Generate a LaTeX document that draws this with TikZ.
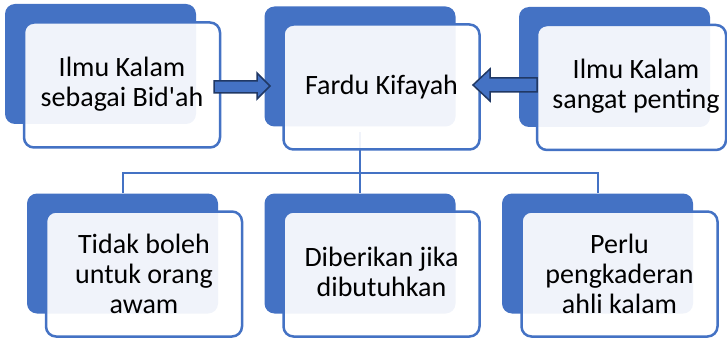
\documentclass[tikz,border=0pt]{standalone}
\usepackage{fontspec}
\setmainfont{Carlito}[Ligatures=TeXOff]
\definecolor{acc}{HTML}{4472C4}
\definecolor{arrline}{HTML}{203864}
\begin{document}
\begin{tikzpicture}[x=1pt,y=-1pt,
  backbox/.style={fill=acc, rounded corners=10pt, inner sep=0pt, minimum width=191pt, minimum height=120pt},
  frontbox/.style={draw=acc, line width=2.5pt, fill=white, fill opacity=0.92, rounded corners=10pt, inner sep=0pt, minimum width=196pt, minimum height=125pt},
  label/.style={align=center, font=\fontsize{28}{30}\selectfont, text=black},
  link/.style={draw=acc, line width=2pt},
  bigarrow/.style={draw=arrline, fill=acc, line width=1.5pt, line join=miter}
]
\useasboundingbox (0,0) rectangle (727,339);

% connectors
\coordinate (hub) at (360,173);
\coordinate (faint) at (360,132);
\node[backbox] (blb) at (122.5,253.5) {};
\node[backbox] (bmb) at (360,253.5) {};
\node[backbox] (brb) at (597.5,253.5) {};
\draw[link] (faint) -- (hub);
\draw[link] (blb.north) -- (blb.north |- hub) -- (brb.north |- hub) -- (brb.north);
\draw[link] (bmb.north) -- (hub);

% top back boxes
\node[backbox] (tlb) at (100.5,64) {};
\node[backbox] (tmb) at (360,66.5) {};
\node[backbox] (trb) at (614.5,67) {};

% front boxes
\node[frontbox] (tlf) at (122,85) {};
\node[frontbox] (tmf) at (381.5,87) {};
\node[frontbox, minimum width=189pt] (trf) at (631.5,87.5) {};
\node[frontbox] (blf) at (144,274) {};
\node[frontbox] (bmf) at (381.5,274) {};
\node[frontbox] (brf) at (619.5,274) {};

% texts
\node[label] (tlt) at (122,84) {Ilmu Kalam\\sebagai Bid'ah};
\node[label] (tmt) at (381.5,87) {Fardu Kifayah};
\node[label] (trt) at (636,86) {Ilmu Kalam\\sangat penting};
\node[label] (blt) at (144,274) {Tidak boleh\\untuk orang\\awam};
\node[label] (bmt) at (381.5,272) {Diberikan jika\\dibutuhkan};
\node[label] (brt) at (619.5,274) {Perlu\\pengkaderan\\ahli kalam};

% block arrows
\draw[bigarrow] (214,81) -- (257,81) -- (257,73) -- (270,86) -- (257,99) -- (257,93) -- (214,93) -- cycle;
\draw[bigarrow] (537,78) -- (490,78) -- (490,69) -- (473,85) -- (490,101) -- (490,92) -- (537,92) -- cycle;
\end{tikzpicture}
\end{document}
